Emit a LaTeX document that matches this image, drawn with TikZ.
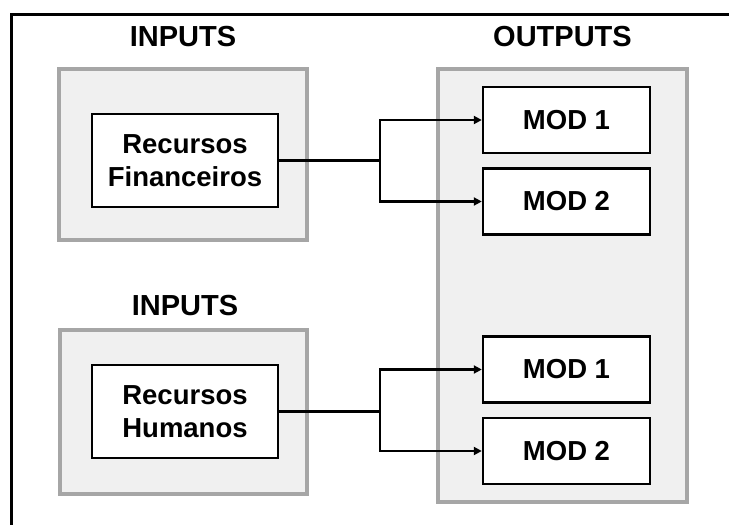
\documentclass[tikz,border=0pt]{standalone}
\usepackage{fontspec}
\setmainfont{Liberation Sans}
\usetikzlibrary{arrows.meta}
\definecolor{panelfill}{HTML}{F0F0F0}
\definecolor{panelline}{HTML}{A6A6A6}
\begin{document}
\begin{tikzpicture}[x=1pt,y=-1pt,
  panel/.style={draw=panelline,fill=panelfill,line width=4.5pt,minimum width=#1,inner sep=0pt},
  itembox/.style={draw=black,fill=white,line width=2.4pt,inner sep=0pt,align=center,
    font=\fontsize{27.5}{33}\selectfont\bfseries},
  heading/.style={font=\fontsize{29}{34}\selectfont\bfseries,inner sep=0pt},
  link/.style={line width=2.4pt},
  arr/.style={link,-{Triangle[length=8pt,width=8pt]}}]
\useasboundingbox (0,0) rectangle (729,525);
% outer frame (runs past the right and bottom edges)
\begin{scope}
\clip (0,0) rectangle (729,525);
\draw[line width=2.8pt] (11.5,14.5) rectangle (740,540);
\end{scope}
% headings
\node[heading] (hin1) at (183,37) {INPUTS};
\node[heading] (hout) at (562.5,37) {OUTPUTS};
\node[heading] (hin2) at (185,306) {INPUTS};
% panels
\node[panel=248pt,minimum height=171pt] (pin1) at (183,154.5) {};
\node[panel=247pt,minimum height=164pt] (pin2) at (183.5,412) {};
\node[panel=249pt,minimum height=433pt] (pout) at (562.5,285.5) {};
% input boxes
\node[itembox,minimum width=186pt,minimum height=93pt] (rf) at (185,160.5) {Recursos\\Financeiros};
\node[itembox,minimum width=186pt,minimum height=93pt] (rh) at (185,411.5) {Recursos\\Humanos};
% output boxes
\node[itembox,minimum width=167pt,minimum height=66pt] (m1a) at (566.5,120) {MOD 1};
\node[itembox,minimum width=167pt,minimum height=66pt] (m2a) at (566.5,201.5) {MOD 2};
\node[itembox,minimum width=167pt,minimum height=66pt] (m1b) at (566.5,369.5) {MOD 1};
\node[itembox,minimum width=167pt,minimum height=66pt] (m2b) at (566.5,451) {MOD 2};
% branch points
\coordinate (ja) at (380,160.5);
\coordinate (jb) at (380,411.5);
% connectors
\draw[link] (rf.east) -- (ja);
\draw[arr] (ja) |- (m1a.west);
\draw[arr] (ja) |- (m2a.west);
\draw[link] (rh.east) -- (jb);
\draw[arr] (jb) |- (m1b.west);
\draw[arr] (jb) |- (m2b.west);
\end{tikzpicture}
\end{document}
